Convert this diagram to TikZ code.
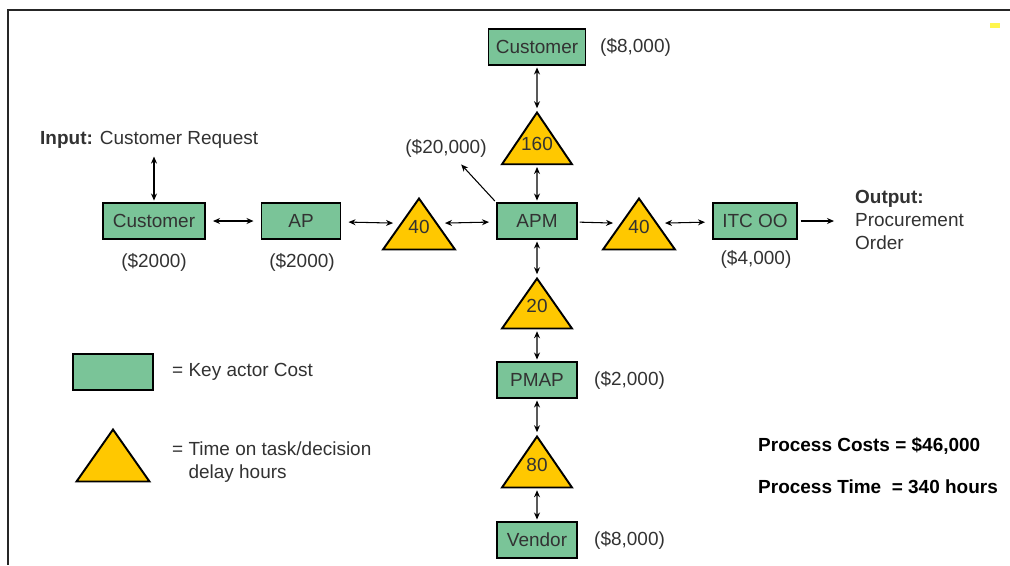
\documentclass[tikz,border=0pt]{standalone}
\usepackage{fontspec}
\setmainfont{Liberation Sans}
\usetikzlibrary{shapes.geometric,arrows.meta}
\definecolor{actorgreen}{RGB}{122,196,152}
\definecolor{delayyellow}{RGB}{255,200,0}
\definecolor{inkgray}{RGB}{50,50,50}
\newcommand{\hours}[1]{\raisebox{0.16cm}{#1}}
\tikzset{
  actor/.style={draw=black,line width=1.1pt,fill=actorgreen,text=inkgray,
    minimum width=1.6cm,minimum height=0.71cm,inner sep=0pt},
  delay/.style={draw=black,line width=1.1pt,fill=delayyellow,text=inkgray,
    isosceles triangle,shape border rotate=90,isosceles triangle stretches,
    minimum width=1.4cm,minimum height=1cm,inner sep=0pt,anchor=apex,
    text height=7.7pt,text depth=0pt},
  note/.style={text=inkgray},
  link/.style={line width=0.6pt,{Stealth[length=4pt,width=3.4pt]}-{Stealth[length=4pt,width=3.4pt]}},
  flow/.style={line width=0.6pt,-{Stealth[length=4pt,width=3.4pt]}}
}
\begin{document}
\begin{tikzpicture}[x=0.02cm,y=-0.02cm,every node/.style={font=\fontsize{10.8}{13}\selectfont}]
  \useasboundingbox (0,0) rectangle (1010,565);
  \draw[line width=0.8pt,black!85] (1010,10) -- (8,10) -- (8,565);
  \fill[yellow!70] (990,23) rectangle (1000,28);

  \node[actor,minimum width=1.94cm] (custtop) at (537,47) {Customer};
  \node[delay] (t160) at (537,110) {\hours{160}};
  \node[actor] (apm) at (537,221) {APM};
  \node[actor,minimum width=2.04cm] (custleft) at (154,221) {Customer};
  \node[actor,minimum width=1.58cm] (ap) at (301,221) {AP};
  \node[delay,minimum width=1.44cm,minimum height=1.02cm] (t40a) at (419,196) {\hours{40}};
  \node[delay,minimum width=1.44cm,minimum height=1.02cm] (t40b) at (639,196) {\hours{40}};
  \node[actor,minimum width=1.68cm] (itc) at (755,221) {ITC OO};
  \node[delay] (t20) at (537,276) {\hours{20}};
  \node[actor] (pmap) at (537,380) {PMAP};
  \node[delay,minimum height=1.02cm] (t80) at (537,434) {\hours{80}};
  \node[actor] (vendor) at (537,540) {Vendor};

  \node[note,anchor=west] (input) at (34,140) {\textbf{Input:} Customer Request};
  \node[note,anchor=west,align=left] (output) at (849,220) {\textbf{Output:}\\Procurement\\Order};
  \node[note,anchor=west] (c8000a) at (594,47) {(\$8,000)};
  \node[note] (c20000) at (446,148) {(\$20,000)};
  \node[note] (c2000a) at (154,262) {(\$2000)};
  \node[note] (c2000b) at (302,262) {(\$2000)};
  \node[note] (c4000) at (756,259) {(\$4,000)};
  \node[note,anchor=west] (c2000c) at (588,380) {(\$2,000)};
  \node[note,anchor=west] (c8000b) at (588,540) {(\$8,000)};

  \node[actor] (legbox) at (113,372) {};
  \node[delay,minimum width=1.46cm,minimum height=1.04cm] (legtri) at (113,427) {};
  \node[note,anchor=west] (legactor) at (166,372) {= Key actor Cost};
  \node[note,anchor=west,align=left] (legdelay) at (166,462) {= Time on task/decision\\\phantom{= }delay hours};

  \node[anchor=west] (totcost) at (752,446) {\textbf{Process Costs = \$46,000}};
  \node[anchor=west] (tottime) at (752,487) {\textbf{Process Time~~= 340 hours}};

  \begin{scope}[shorten <=4pt,shorten >=4pt]
    \draw[link] (custleft) to (ap);
    \draw[link] (ap) to (t40a.left side);
    \draw[link] (t40a.right side) to (apm);
    \draw[link] (t40b.right side) to (itc);
    \draw[flow,shorten <=1.5pt,shorten >=0.3cm] (itc) to (output.west |- itc);
  \end{scope}
  \begin{scope}[shorten <=1pt,shorten >=1pt]
    \draw[link] (custleft) to (custleft |- input.south);
    \draw[link] (custtop) to (t160);
    \draw[link] (t160) to (apm);
    \draw[link] (apm) to (t20);
    \draw[link] (t20) to (pmap);
    \draw[link] (pmap) to (t80);
    \draw[link] (t80) to (vendor);
    \draw[flow,shorten >=4pt] (apm) to (t40b.left side);
    \draw[flow] (apm.north west) to (c20000);
  \end{scope}
\end{tikzpicture}
\end{document}
